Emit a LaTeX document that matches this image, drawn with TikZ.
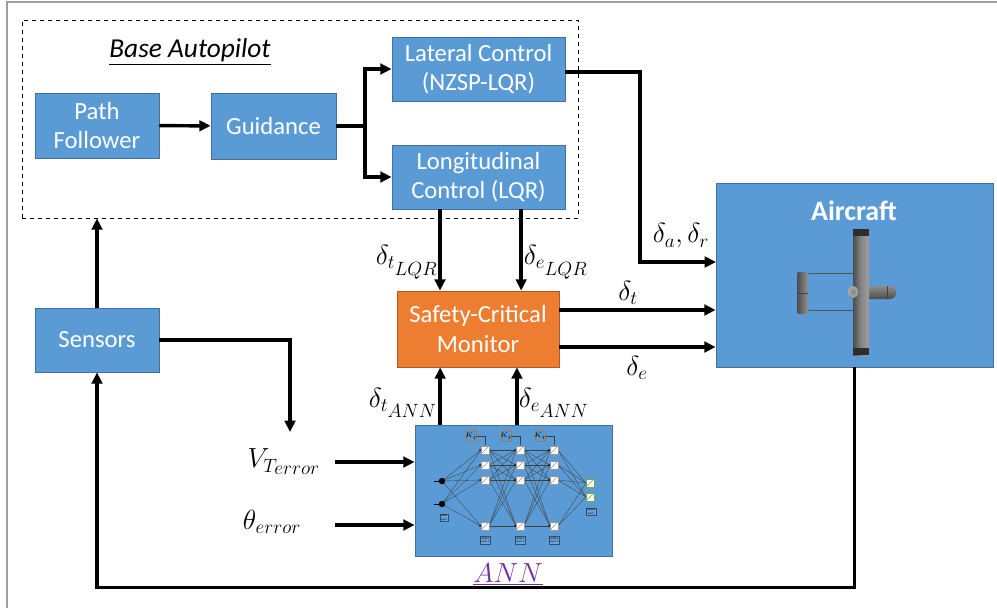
\documentclass[tikz,border=0pt]{standalone}
\usepackage{fontspec}
\setmainfont{Carlito}
\usetikzlibrary{arrows.meta,calc}
\definecolor{boxblue}{HTML}{5B9BD5}
\definecolor{boxedge}{HTML}{41719C}
\definecolor{monorange}{HTML}{ED7D31}
\definecolor{monedge}{HTML}{AE5A21}
\definecolor{annpurple}{HTML}{7030A0}
\definecolor{outgreen}{HTML}{70AD47}
\definecolor{biasedge}{HTML}{A0785A}
\begin{document}
\begin{tikzpicture}[x=0.75pt,y=-0.75pt,
  blk/.style={draw=boxedge, line width=0.6pt, fill=boxblue, text=white, align=center,
              font=\fontsize{18.5}{22}\selectfont, inner sep=2pt},
  arr/.style={line width=2.6pt, -{Triangle[length=8.5pt,width=8pt]}},
  wire/.style={line width=2.6pt},
  lbl/.style={font=\fontsize{22}{24}\selectfont, inner sep=0pt},
  netline/.style={draw=black!75, line width=0.25pt},
  neuron/.style={fill=white, draw=gray!80, line width=0.3pt},
  tinybox/.style={draw=boxedge!70!black, line width=0.4pt, fill=boxblue!90!white,
                  font=\fontsize{2.2}{2.6}\selectfont, align=center, inner sep=0.6pt, text=black}]
\useasboundingbox (0,0) rectangle (997,608);

% outer frame
\draw[gray!75, line width=0.8pt] (7,608) -- (7,2) -- (997,2);

% base autopilot group
\node[draw, dashed, line width=0.6pt, minimum width=417pt, minimum height=148.5pt] (auto) at (300,119) {};
\node[font=\fontsize{20.5}{24}\selectfont\itshape] (title) at (190,52) {\underline{Base Autopilot}};

% blocks
\node[blk, minimum width=93pt, minimum height=48.75pt] (pf) at (97,125.5) {Path\\Follower};
\node[blk, minimum width=93.75pt, minimum height=49.5pt] (gd) at (273.5,126) {Guidance};
\node[blk, minimum width=129.75pt, minimum height=48pt] (lat) at (478.5,69) {Lateral Control\\(NZSP-LQR)};
\node[blk, minimum width=129.75pt, minimum height=48pt] (lon) at (478.5,177) {Longitudinal\\Control (LQR)};
\node[blk, minimum width=93pt, minimum height=48pt] (sens) at (97,340) {Sensors};
\node[blk, draw=monedge, fill=monorange, minimum width=121.5pt, minimum height=57pt] (mon) at (478,329) {Safety-Critical\\Monitor};
\node[blk, minimum width=147.75pt, minimum height=98.25pt] (ann) at (513.5,490.5) {};
\node[blk, minimum width=207.75pt, minimum height=138pt] (ac) at (854.5,275) {};
\node[text=white, font=\fontsize{21}{24}\selectfont\bfseries] (actitle) at (854,211) {Aircraft};

% aircraft drawing (top view)
\draw[gray!65!black, line width=0.5pt] (806,273) -- (858,273) (806,310) -- (858,310);
\shade[left color=gray!60!black, right color=gray!85, rounded corners=1pt] (797,272) rectangle (808,314);
\draw[gray!50!black, line width=0.3pt] (797,293) -- (808,293);
\shade[top color=gray!90, bottom color=gray!60!black, rounded corners=4pt] (849,286) rectangle (896,299);
\draw[gray!50!black, line width=0.3pt] (887,286) -- (887,299);
\shade[left color=gray!60!black, right color=gray!75, middle color=gray!95] (853,229) rectangle (869,355);
\fill[gray!35!black] (853,229) rectangle (869,236);
\fill[gray!35!black] (853,348) rectangle (869,355);
\shade[inner color=gray!95, outer color=gray!65] (853,292) ellipse (5 and 6);

% neural network sketch
\coordinate (i1) at (442,481);
\coordinate (i2) at (442,504);
\foreach \a in {481,504}
  \foreach \b in {450,465,480,526}
    \draw[netline] (442,\a) -- (481,\b);
\foreach \a in {450,465,480,526}
  \foreach \b in {450,465,480,526}
    {\draw[netline] (489,\a) -- (516,\b);
     \draw[netline] (524,\a) -- (550,\b);}
\foreach \a in {450,465,480,526}
  \foreach \b in {483,497}
    \draw[netline] (558,\a) -- (586,\b);
\foreach \x in {485,520,554}
  \foreach \y in {450,465,480,526}
    {\draw[neuron] (\x-4,\y-4) rectangle (\x+4,\y+4);
     \draw[gray!80, line width=0.3pt] (\x-3,\y+3) -- (\x+3,\y-3);
     \fill[black] (\x-5,\y) circle (0.9);}
\foreach \y in {483,497}
  {\draw[fill=white, draw=outgreen, line width=0.5pt] (586,\y-4) rectangle (594,\y+4);
   \draw[outgreen, line width=0.3pt] (587,\y+3) -- (593,\y-3);}
\fill[black] (i1) circle (3.2);
\fill[black] (i2) circle (3.2);
\draw[black, line width=0.4pt] (434,481) -- (i1) (434,504) -- (i2);
\foreach \x in {471,506,540}
  {\draw[biasedge, line width=0.4pt, fill=boxblue] (\x-5,431) rectangle (\x+5,441);
   \node[font=\fontsize{3}{3}\selectfont, inner sep=0pt] at (\x,436) {$K_i$};
   \draw[black!75, line width=0.3pt] (\x+5,436) -- (\x+14,436) -- (\x+14,445);}
\node[tinybox] (inl) at (444,518) {Input\\Layer};
\node[tinybox] (h1l) at (485,540) {Hidden\\Layer 1};
\node[tinybox] (h2l) at (520,540) {Hidden\\Layer 2};
\node[tinybox] (h3l) at (554,540) {Hidden\\Layer 3};
\node[tinybox] (outl) at (591,512) {Output\\Layer};
\node[text=annpurple, font=\fontsize{22}{24}\selectfont] (annlbl) at (508,574) {$\underline{ANN}$};

% connectors
\draw[arr] (pf) -- (gd);
\coordinate (split) at (365,126);
\draw[wire] (gd.east) -- (split);
\draw[arr] (split) |- (lat.west);
\draw[arr] (split) |- (lon.west);
\coordinate (latturn) at (640,72);
\coordinate (acin) at (716,262);
\draw[arr] (lat.east |- latturn) -- (latturn) |- (acin);
\draw[arr] ([xshift=-28.5pt]mon.north |- lon.south) -- ([xshift=-28.5pt]mon.north);
\draw[arr] ([xshift=32pt]lon.south) -- ([xshift=32pt]lon.south |- mon.north);
\draw[arr] ([yshift=14.25pt]mon.east) -- ([yshift=14.25pt]mon.east -| ac.west);
\draw[arr] ([yshift=-13.5pt]mon.east) -- ([yshift=-13.5pt]mon.east -| ac.west);
\draw[arr] ([xshift=-55pt]ann.north) -- ([xshift=-55pt]ann.north |- mon.south);
\draw[arr] ([xshift=2.6pt]ann.north) -- ([xshift=2.6pt]ann.north |- mon.south);
\draw[arr] (sens.north) -- (sens.north |- auto.south);
\coordinate (vdrop) at (290,432);
\draw[arr] (sens.east) -| (vdrop);
\coordinate (vin) at (335,462);
\coordinate (tin) at (335,525);
\draw[arr] (vin) -- (vin -| ann.west);
\draw[arr] (tin) -- (tin -| ann.west);
\draw[arr] (ac.south) -- ++(0,220) -| (sens.south);

% signal labels
\node[lbl] (lar) at (681,236) {$\delta_a,\delta_r$};
\node[lbl] (lt) at (628,293) {$\delta_t$};
\node[lbl] (le) at (637,368) {$\delta_e$};
\node[lbl] (ltlqr) at (407,262) {$\delta_{t_{\scriptstyle LQR}}$};
\node[lbl] (lelqr) at (556,262) {$\delta_{e_{\scriptstyle LQR}}$};
\node[lbl] (ltann) at (403,403) {$\delta_{t_{\scriptstyle ANN}}$};
\node[lbl] (leann) at (554,403) {$\delta_{e_{\scriptstyle ANN}}$};
\node[lbl] (lv) at (284,462) {$V_{T_{\scriptstyle error}}$};
\node[lbl] (lth) at (272,522) {$\theta_{error}$};
\end{tikzpicture}
\end{document}
